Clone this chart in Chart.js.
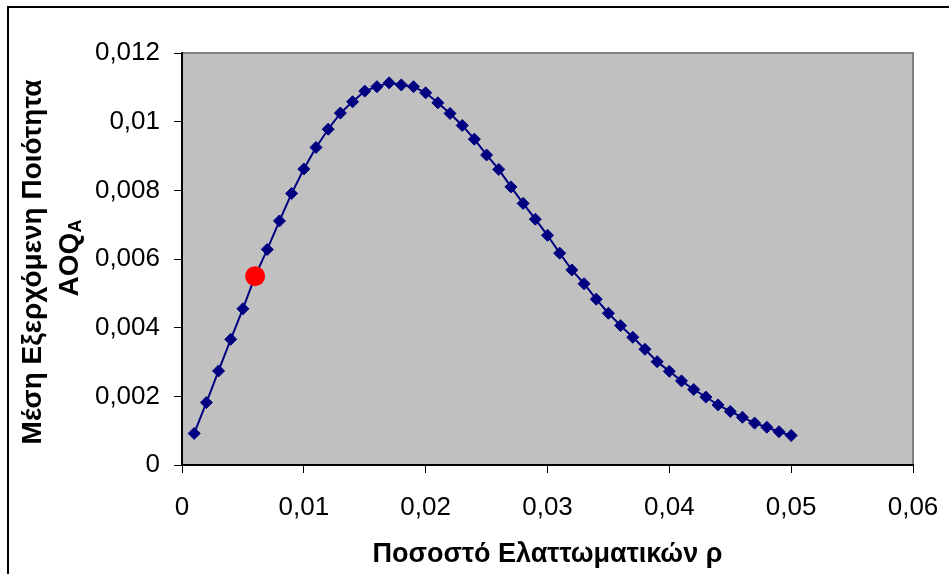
<!DOCTYPE html>
<html>
<head>
<meta charset="utf-8">
<script src="https://cdn.jsdelivr.net/npm/chart.js@4"></script>
<style>
  html, body { margin: 0; padding: 0; background: #ffffff; }
  canvas { display: block; }
</style>
</head>
<body>
<canvas id="c" width="949" height="574"></canvas>
<script>
// ---- data ----
const defectRate = [0.001,0.002,0.003,0.004,0.005,0.006,0.007,0.008,0.009,0.010,
                    0.011,0.012,0.013,0.014,0.015,0.016,0.017,0.018,0.019,0.020,
                    0.021,0.022,0.023,0.024,0.025,0.026,0.027,0.028,0.029,0.030,
                    0.031,0.032,0.033,0.034,0.035,0.036,0.037,0.038,0.039,0.040,
                    0.041,0.042,0.043,0.044,0.045,0.046,0.047,0.048,0.049,0.050];
const aoqValues = [0.00092,0.00182,0.00274,0.00366,0.00455,0.00550,0.00628,0.00711,0.00791,0.00862,
                   0.00925,0.00978,0.01025,0.01058,0.01089,0.01102,0.01113,0.01107,0.01102,0.01084,
                   0.01055,0.01024,0.00989,0.00949,0.00903,0.00861,0.00810,0.00762,0.00716,0.00669,
                   0.00617,0.00568,0.00528,0.00483,0.00442,0.00406,0.00372,0.00337,0.00301,0.00273,
                   0.00245,0.00220,0.00198,0.00175,0.00156,0.00139,0.00122,0.00110,0.00097,0.00086];
const highlightX = [0.006];
const highlightY = [0.0055];
const xTickLabels = ['0','0,01','0,02','0,03','0,04','0,05','0,06'];
const yTickLabels = ['0','0,002','0,004','0,006','0,008','0,01','0,012'];
const xTitle = 'Ποσοστό Ελαττωματικών ρ';
const yTitleLine1 = 'Μέση Εξερχόμενη Ποιότητα';
const yTitleMain = 'AOQ';
const yTitleSub = 'A';

const seriesPoints = defectRate.map((x, i) => ({ x: x, y: aoqValues[i] }));
const highlightPoints = highlightX.map((x, i) => ({ x: x, y: highlightY[i] }));

const FONT = '"Liberation Sans", Arial, sans-serif';

const decorPlugin = {
  id: 'decor',
  beforeDraw(chart) {
    const { ctx, chartArea: a } = chart;
    ctx.save();
    // outer frame (left and top visible)
    ctx.strokeStyle = '#000000';
    ctx.lineWidth = 2;
    ctx.beginPath();
    ctx.moveTo(8, 600);
    ctx.lineTo(8, 7);
    ctx.lineTo(960, 7);
    ctx.stroke();
    // plot area
    ctx.fillStyle = '#C0C0C0';
    ctx.fillRect(a.left, a.top, a.right - a.left, a.bottom - a.top);
    ctx.strokeStyle = '#808080';
    ctx.lineWidth = 2;
    ctx.beginPath();
    ctx.moveTo(a.left, a.top);
    ctx.lineTo(a.right, a.top);
    ctx.lineTo(a.right, a.bottom);
    ctx.stroke();
    ctx.restore();
  },
  afterDraw(chart) {
    const { ctx, chartArea: a } = chart;
    const cy = (a.top + a.bottom) / 2;
    ctx.save();
    ctx.fillStyle = '#000000';
    // line 1
    ctx.save();
    ctx.translate(41, cy + 3);
    ctx.rotate(-Math.PI / 2);
    ctx.font = 'bold 28px ' + FONT;
    ctx.textAlign = 'center';
    ctx.textBaseline = 'alphabetic';
    ctx.fillText(yTitleLine1, 0, 0);
    ctx.restore();
    // line 2 with subscript
    ctx.save();
    ctx.translate(78, cy - 1);
    ctx.rotate(-Math.PI / 2);
    ctx.font = 'bold 28px ' + FONT;
    const w1 = ctx.measureText(yTitleMain).width;
    ctx.font = 'bold 18px ' + FONT;
    const w2 = ctx.measureText(yTitleSub).width;
    const start = -(w1 + w2) / 2;
    ctx.textAlign = 'left';
    ctx.textBaseline = 'alphabetic';
    ctx.font = 'bold 28px ' + FONT;
    ctx.fillText(yTitleMain, start, 0);
    ctx.font = 'bold 18px ' + FONT;
    ctx.fillText(yTitleSub, start + w1, 3);
    ctx.restore();
    ctx.restore();
  }
};

new Chart(document.getElementById('c'), {
  type: 'scatter',
  data: {
    datasets: [
      {
        label: 'highlight',
        data: highlightPoints,
        showLine: false,
        pointStyle: 'circle',
        pointRadius: 10,
        pointBackgroundColor: '#FF0000',
        pointBorderColor: '#FF0000',
        pointBorderWidth: 0
      },
      {
        label: 'AOQ',
        data: seriesPoints,
        showLine: true,
        borderColor: '#000080',
        borderWidth: 2,
        pointStyle: 'rectRot',
        pointRadius: 6,
        pointBackgroundColor: '#000080',
        pointBorderColor: '#000080',
        pointBorderWidth: 1
      }
    ]
  },
  options: {
    responsive: false,
    devicePixelRatio: 1,
    animation: false,
    events: [],
    layout: { padding: { left: 0, top: 53, right: 36, bottom: 0 } },
    plugins: {
      legend: { display: false },
      tooltip: { enabled: false },
      title: { display: false }
    },
    scales: {
      x: {
        type: 'linear',
        min: 0,
        max: 0.06,
        afterFit(s) { s.height = 109; s.paddingLeft = 0; s.paddingRight = 0; },
        ticks: {
          stepSize: 0.01,
          color: '#000000',
          font: { family: FONT, size: 26 },
          padding: 19,
          maxRotation: 0,
          autoSkip: false,
          callback: (v, i) => xTickLabels[i]
        },
        grid: { drawOnChartArea: false, drawTicks: true, tickLength: 8, color: '#000000', lineWidth: 1 },
        border: { display: true, color: '#000000', width: 2 },
        title: {
          display: true,
          text: xTitle,
          color: '#000000',
          font: { family: FONT, size: 27, weight: 'bold' },
          padding: { top: 0, bottom: 3 }
        }
      },
      y: {
        type: 'linear',
        min: 0,
        max: 0.012,
        afterFit(s) { s.width = 182; s.paddingTop = 0; s.paddingBottom = 0; },
        ticks: {
          stepSize: 0.002,
          color: '#000000',
          font: { family: FONT, size: 26 },
          padding: 14,
          autoSkip: false,
          callback: (v, i) => yTickLabels[i]
        },
        grid: { drawOnChartArea: false, drawTicks: true, tickLength: 8, color: '#000000', lineWidth: 1 },
        border: { display: true, color: '#000000', width: 2 }
      }
    }
  },
  plugins: [decorPlugin]
});
</script>
</body>
</html>
